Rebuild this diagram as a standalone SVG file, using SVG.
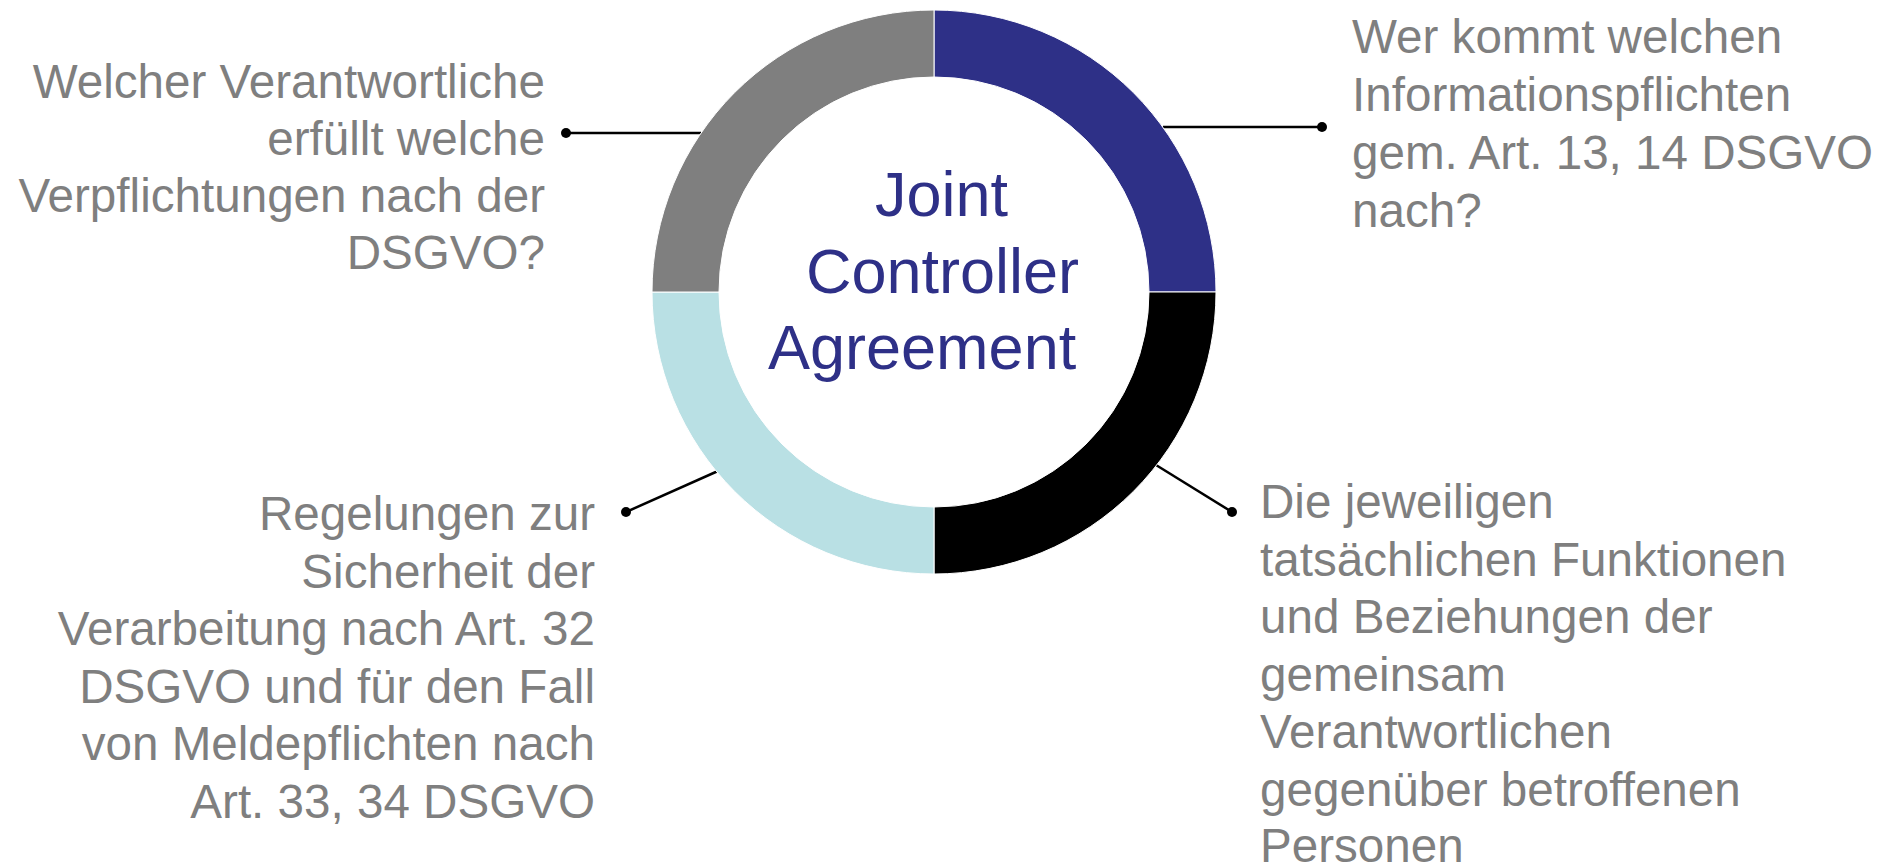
<svg xmlns="http://www.w3.org/2000/svg" width="1895" height="868" viewBox="0 0 1895 868">
  <style>
    .label { font-family: "Liberation Sans", Arial, sans-serif; font-size: 47.6px; fill: #7F7F7F; }
    .right { text-anchor: end; }
    .title { font-family: "Liberation Sans", Arial, sans-serif; font-size: 63px; fill: #2E3087; }
    .seg { stroke: #FFFFFF; stroke-width: 1; }
    .conn { stroke: #000000; stroke-width: 2.5; fill: none; }
    .dot { fill: #000000; }
  </style>
  <rect width="1895" height="868" fill="#FFFFFF"/>

  <!-- connectors: from ring edge to label dots -->
  <g id="connectors">
    <line class="conn" x1="701" y1="133" x2="566" y2="133"/>
    <circle class="dot" cx="566" cy="133" r="5"/>
    <line class="conn" x1="1163" y1="127" x2="1322" y2="127"/>
    <circle class="dot" cx="1322" cy="127" r="5"/>
    <line class="conn" x1="718" y1="471" x2="626" y2="512"/>
    <circle class="dot" cx="626" cy="512" r="5"/>
    <line class="conn" x1="1156" y1="465" x2="1232" y2="512"/>
    <circle class="dot" cx="1232" cy="512" r="5"/>
  </g>

  <!-- ring of four quarter segments -->
  <g id="ring">
    <path id="seg-info" class="seg" fill="#2E3087" d="M 934 10 A 282 282 0 0 1 1216 292 L 1149 292 A 215 215 0 0 0 934 77 Z"/>
    <path id="seg-functions" class="seg" fill="#000000" d="M 1216 292 A 282 282 0 0 1 934 574 L 934 507 A 215 215 0 0 0 1149 292 Z"/>
    <path id="seg-security" class="seg" fill="#B9E0E4" d="M 934 574 A 282 282 0 0 1 652 292 L 719 292 A 215 215 0 0 0 934 507 Z"/>
    <path id="seg-duties" class="seg" fill="#7F7F7F" d="M 652 292 A 282 282 0 0 1 934 10 L 934 77 A 215 215 0 0 0 719 292 Z"/>
  </g>

  <g id="center-title">
    <text class="title" x="875" y="216">Joint</text>
    <text class="title" x="806" y="293">Controller</text>
    <text class="title" x="768" y="369">Agreement</text>
  </g>

  <g id="node-duties">
    <text class="label right" x="545" y="98">Welcher Verantwortliche</text>
    <text class="label right" x="545" y="155">erfüllt welche</text>
    <text class="label right" x="545" y="212">Verpflichtungen nach der</text>
    <text class="label right" x="545" y="269">DSGVO?</text>
  </g>

  <g id="node-info">
    <text class="label" x="1352" y="53">Wer kommt welchen</text>
    <text class="label" x="1352" y="111">Informationspflichten</text>
    <text class="label" x="1352" y="169">gem. Art. 13, 14 DSGVO</text>
    <text class="label" x="1352" y="227">nach?</text>
  </g>

  <g id="node-security">
    <text class="label right" x="595" y="530">Regelungen zur</text>
    <text class="label right" x="595" y="588">Sicherheit der</text>
    <text class="label right" x="595" y="645">Verarbeitung nach Art. 32</text>
    <text class="label right" x="595" y="703">DSGVO und für den Fall</text>
    <text class="label right" x="595" y="760">von Meldepflichten nach</text>
    <text class="label right" x="595" y="818">Art. 33, 34 DSGVO</text>
  </g>

  <g id="node-functions">
    <text class="label" x="1260" y="518">Die jeweiligen</text>
    <text class="label" x="1260" y="576">tatsächlichen Funktionen</text>
    <text class="label" x="1260" y="633">und Beziehungen der</text>
    <text class="label" x="1260" y="691">gemeinsam</text>
    <text class="label" x="1260" y="748">Verantwortlichen</text>
    <text class="label" x="1260" y="806">gegenüber betroffenen</text>
    <text class="label" x="1260" y="862">Personen</text>
  </g>
</svg>
